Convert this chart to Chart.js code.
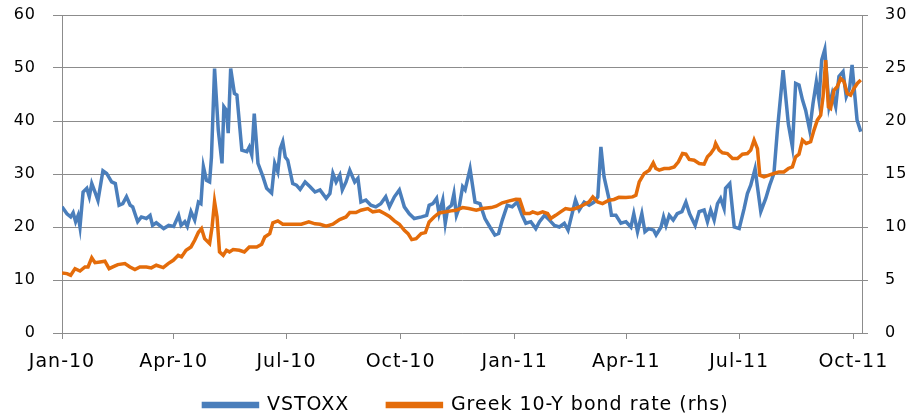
<!DOCTYPE html>
<html>
<head>
<meta charset="utf-8">
<script src="https://cdn.jsdelivr.net/npm/chart.js@4/dist/chart.umd.min.js"></script>
<style>
  html, body { margin: 0; padding: 0; background: #fff; }
  #wrap { width: 916px; height: 418px; position: relative; overflow: hidden; }
</style>
</head>
<body>
<div id="wrap"><canvas id="c" width="916" height="418"></canvas></div>
<script>
// Days since 1 Jan 2010
const vstoxxDays = [0,4,7,9,11,13,14.5,17,20,22,24,26.6,29,33,36,40,43,46,49,52,55,57,61,64,68,71,73,76,82,86,90,94,96,99,101,104,107,110,112,114,116.5,119,120.5,123,126,129,130.5,132.6,134,136,139,141,145,149,151,153,155,158,162,165,169,171.5,174,176,178,180,182,186,189,192,196,200,204,208,213,216,218.4,221,224,226,229,232,236,238.6,241,245,249,253,257,261,264,268,272,276,280,284,290,294,296,299,302,304,307,309,311,314,316,318,320,323,325,329,333,337,341,345,349,352,355,359,363,367,371,374,378,382,385,389,393,397,401,405,408,410,414,417,421,425,429,432,434.5,437,441,443,446.6,450.6,454.7,458.7,461,464,467.5,470,473,477,479,483,485,487,489.6,492.8,496,499.8,503,506,510.5,513.7,517.7,520.4,523,525.8,528.5,531,533.8,535,538.4,542,546,550,552.6,555.3,558.8,560.7,563.4,567.4,570.6,574,576.8,581.4,585.6,588.9,591.5,594.2,597,599.6,602.8,605.5,608.2,610.3,612.5,615,618.4,621,623.8,626.4,629.7,632.3,635,637,639.3,641,644];
const vstoxxVals = [23.8,22.5,21.9,22.7,21,22.2,20,26.6,27.3,25.7,28.2,26.6,25,30.6,30.1,28.5,28.2,24.1,24.4,25.7,24.1,23.8,21,21.9,21.6,22.2,20.3,20.8,19.7,20.3,20.1,22.2,20.3,21,20.1,22.9,21.3,24.7,24.4,31.4,28.8,28.5,33.2,49.9,38.3,32,42.7,42,37.7,49.9,45.2,44.9,34.5,34.2,35.1,33.6,41.4,32,29.5,27.3,26.4,32,30.4,34.8,36.1,33.2,32.6,28.2,27.9,27.1,28.5,27.6,26.6,27,25.4,26.3,30.1,28.5,29.8,27,28.5,30.7,28.5,29.2,24.7,25.1,24.1,23.8,24.4,25.7,23.8,25.7,27,23.8,22.5,21.6,21.9,22.2,24.1,24.4,25.4,22.5,25.1,20.7,23.5,24.1,26.3,22.2,23.5,27.6,27,31,24.7,24.4,21.6,20,18.5,18.8,21.3,24.1,23.8,24.7,22.2,20.7,21,19.7,21,22.2,21.3,20.3,20,20.7,19.4,21.3,25.1,23.2,24.7,24.1,24.7,25.7,35.1,29.5,25.3,22.2,22.2,20.7,21,20,22.5,19.1,22.5,19.1,19.7,19.4,18.5,20,21.9,20.3,22.2,21.3,22.5,22.9,24.7,22.5,20.3,22.9,23.2,21,23.2,21.3,24.4,25.4,23.5,27.3,28.2,20,19.7,23.5,26.3,27.9,31,27.6,22.9,25.4,27.9,30.1,38.3,49.6,39.5,35.1,47.1,46.8,44,42,38.3,43.3,47.4,44,51.5,53.5,42.7,45.2,42.7,48.4,49.3,44.6,46.2,50.6,44.6,40.2,38];

const bondDays = [0,4,7,10.5,14.5,18.5,21,24,26.6,30.6,34.6,38,41,45,50.7,54.8,58.8,62.8,68,72,76,81.6,85.6,89.7,93.7,96.4,100,104,107,110,112.5,115,119,121,123,125,127,130,132.6,135,138,143,147,151,157,161,163.5,167.5,170,174,178,182,187.6,193,199,204,208,213,218.4,223.8,229,232,237,241,246.6,250.6,256,260,264,268,272,276,279,282,285.5,289.6,293,296,300,304,309.7,313.7,317.7,323,328,334,339,346,350,355,360.7,366,369,372.8,377,379.5,383.5,387.5,391.5,394,398,402,406,410,414,420,425,428,431.8,435.8,441,445,449,454.7,460,462.7,465.4,469.4,473.5,476.7,478.8,481.5,485.5,489.6,493.6,497,500.3,503,505.7,509.7,513.7,517.7,520.4,523,525.8,527,529.8,532.5,536.5,540.6,544.6,548.6,552.6,555.3,558,560.7,562.6,566,570,574,578,582,585.6,588.9,591.5,594.2,597,600,603.6,606.3,609,611.7,613.6,615.7,617.9,619.7,622.4,625,627.8,630.5,633.1,635.8,638.5,641.2,644];
const bondVals = [5.67,5.6,5.45,6.07,5.85,6.23,6.23,7.1,6.64,6.7,6.77,6.07,6.23,6.45,6.55,6.23,5.98,6.23,6.23,6.14,6.39,6.17,6.55,6.86,7.33,7.18,7.8,8.12,8.75,9.5,9.85,8.9,8.44,10,12.4,10.95,7.65,7.33,7.8,7.65,7.87,7.8,7.65,8.12,8.12,8.37,9.06,9.38,10.4,10.58,10.26,10.26,10.26,10.26,10.48,10.3,10.26,10.07,10.26,10.7,10.95,11.36,11.36,11.58,11.74,11.43,11.52,11.27,11,10.58,10.26,9.69,9.38,8.81,8.9,9.38,9.47,10.48,10.95,11.33,11.43,11.52,11.58,11.83,11.74,11.58,11.74,11.83,11.96,12.28,12.46,12.62,12.6,11.27,11.27,11.43,11.27,11.43,11.27,10.8,11.1,11.43,11.74,11.65,11.74,12.05,12.37,12.84,12.37,12.21,12.53,12.6,12.8,12.78,12.84,13,14.26,15.05,15.36,16.05,15.52,15.36,15.52,15.52,15.67,16.15,16.93,16.87,16.37,16.3,15.99,15.93,16.62,16.93,17.4,17.88,17.25,17,16.93,16.46,16.46,16.87,16.93,17.25,18.2,17.4,14.89,14.73,14.89,15.05,15.2,15.2,15.52,15.67,16.62,16.87,18.2,17.88,18.04,19.14,20.08,20.55,22.3,25.75,21.34,21.18,22.9,23.23,24,23.7,22.6,22.44,23.07,23.54,23.86];

const tickDays = [0,90,181,273,365,455,546,638];
const tickLabels = ['Jan-10','Apr-10','Jul-10','Oct-10','Jan-11','Apr-11','Jul-11','Oct-11'];
const leftTicks = [0,10,20,30,40,50,60];
const rightTicks = [0,5,10,15,20,25,30];
const seriesNames = ['VSTOXX','Greek 10-Y bond rate (rhs)'];

const BLUE = '#4A7EBB';
const ORANGE = '#E46C0A';
const GRID = '#8C8C8C';
const FONT = 'DejaVu Sans';
const LS = '1px';

const toXY = (xs, ys) => xs.map((x, i) => ({ x: x, y: ys[i] }));

// widen text slightly, like the stretched reference lettering; nudge legend;
// let the x labels extend below the (short) x-axis box without being clipped
const spacing = {
  id: 'spacing',
  beforeInit: (c) => { c.ctx.letterSpacing = LS; },
  beforeUpdate: (c) => { c.ctx.letterSpacing = LS; },
  beforeLayout: (c) => { c.ctx.letterSpacing = LS; },
  afterLayout: (c) => {
    if (c.legend) { c.legend.left += 8; c.legend.right += 8; }
    if (c.scales.x) { c.scales.x.bottom += 30; }
  },
  beforeDraw: (c) => { c.ctx.letterSpacing = LS; }
};

const fitY = (w) => (s) => { s.width = w; s.paddingTop = 15; s.paddingBottom = 9; };

new Chart(document.getElementById('c'), {
  type: 'line',
  data: {
    datasets: [
      { label: seriesNames[0], data: toXY(vstoxxDays, vstoxxVals), yAxisID: 'y',
        borderColor: BLUE, backgroundColor: BLUE, borderWidth: 3.5, pointRadius: 0, tension: 0, order: 2 },
      { label: seriesNames[1], data: toXY(bondDays, bondVals), yAxisID: 'y2',
        borderColor: ORANGE, backgroundColor: ORANGE, borderWidth: 3.5, pointRadius: 0, tension: 0, order: 1 }
    ]
  },
  plugins: [spacing],
  options: {
    responsive: false,
    animation: false,
    layout: { padding: { top: 0, left: 0, right: 0, bottom: -6.5 } },
    plugins: {
      tooltip: { enabled: false },
      legend: {
        position: 'bottom',
        reverse: true,
        labels: { boxWidth: 54, boxHeight: 3, color: '#000', padding: 38,
                  font: { family: FONT, size: 19 } }
      }
    },
    scales: {
      x: {
        type: 'linear', min: 0, max: 645,
        afterBuildTicks: (s) => { s.ticks = tickDays.map(v => ({ value: v })); },
        afterFit: (s) => { s.height = 24.5; },
        ticks: { autoSkip: false, maxRotation: 0, color: '#000', padding: 12,
                 font: { family: FONT, size: 19 },
                 callback: (v) => { const i = tickDays.indexOf(v); return i >= 0 ? tickLabels[i] : ''; } },
        grid: { drawOnChartArea: false, drawTicks: true, tickLength: 6, color: GRID },
        border: { color: GRID }
      },
      y: {
        position: 'left', min: 0, max: 60,
        afterBuildTicks: (s) => { s.ticks = leftTicks.map(v => ({ value: v })); },
        afterFit: fitY(62),
        ticks: { color: '#000', padding: 17, font: { family: FONT, size: 16 } },
        grid: { color: GRID, tickLength: 9 },
        border: { color: GRID }
      },
      y2: {
        position: 'right', min: 0, max: 30,
        afterBuildTicks: (s) => { s.ticks = rightTicks.map(v => ({ value: v })); },
        afterFit: fitY(54),
        ticks: { color: '#000', padding: 17, font: { family: FONT, size: 16 } },
        grid: { drawOnChartArea: false, tickLength: 6, color: GRID },
        border: { color: GRID }
      }
    }
  }
});
</script>
</body>
</html>
